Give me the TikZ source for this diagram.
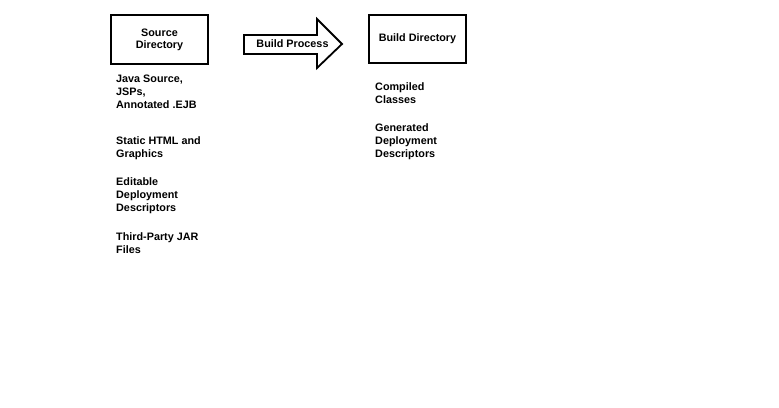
\documentclass[tikz,border=0pt]{standalone}
\usepackage{fontspec}
\setmainfont{Liberation Sans}
\begin{document}
\begin{tikzpicture}[x=1pt,y=-1pt,
  box/.style={draw=black,line width=2pt,fill=white},
  lbl/.style={font=\fontsize{10.8}{12}\selectfont\bfseries,align=center,inner sep=0pt},
  item/.style={font=\fontsize{10.8}{13}\selectfont\bfseries,align=left,anchor=base west,inner sep=0pt}]
\useasboundingbox[fill=white] (0,0) rectangle (779,407);
% boxes
\draw[box] (111,15) rectangle (208,64);
\node[lbl] (src) at (159.5,39.5) {Source\\Directory};
\draw[box] (369,15) rectangle (466,63);
\node[lbl] (bld) at (417.5,38.5) {Build Directory};
% arrow
\draw[line width=1.8pt,line join=miter,fill=white] (244,35) -- (317,35) -- (317,19) -- (342,44) -- (317,68) -- (317,54) -- (244,54) -- cycle;
\node[lbl] (proc) at (292.5,43.5) {Build Process};
% left items (anchor = baseline of last line)
\node[item] (j) at (116,108) {Java Source,\\JSPs,\\Annotated .EJB};
\node[item] (s) at (116,157) {Static HTML and\\Graphics};
\node[item] (e) at (116,211) {Editable\\Deployment\\Descriptors};
\node[item] (t) at (116,253) {Third-Party JAR\\Files};
% right items
\node[item] (c) at (375,103) {Compiled\\Classes};
\node[item] (g) at (375,157) {Generated\\Deployment\\Descriptors};
\end{tikzpicture}
\end{document}
